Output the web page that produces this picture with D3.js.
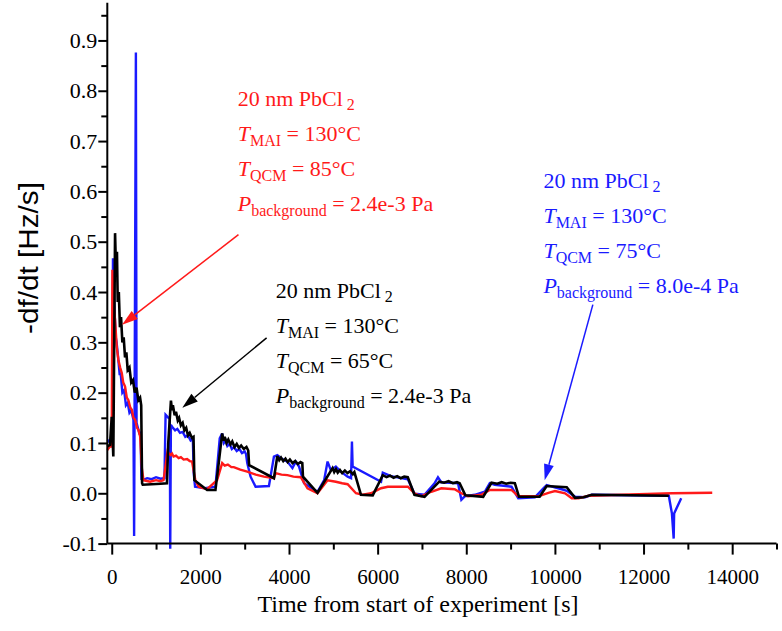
<!DOCTYPE html>
<html>
<head>
<meta charset="utf-8">
<script src="https://cdn.jsdelivr.net/npm/d3@7"></script>
<style>
  html, body { margin: 0; padding: 0; background: #fff; }
  svg { display: block; }
</style>
</head>
<body>
<svg id="chart" width="782" height="631"></svg>
<script>
// ---------------- data (time [s], -df/dt [Hz/s]) ----------------
const seriesBlack65 = [[-100,0.093],[-40,0.096],[0,0.152],[36,0.073],[75,0.517],[100,0.43],[118,0.48],[135,0.38],[160,0.40],[185,0.33],[210,0.35],[240,0.30],[270,0.31],[300,0.27],[330,0.28],[360,0.245],[400,0.25],[440,0.22],[480,0.225],[520,0.20],[560,0.21],[600,0.185],[640,0.19],[665,0.175],[685,0.02],[700,0.017],[900,0.018],[1100,0.019],[1246,0.02],[1275,0.1],[1336,0.184],[1360,0.165],[1380,0.175],[1420,0.155],[1450,0.162],[1490,0.145],[1520,0.15],[1560,0.135],[1600,0.14],[1640,0.125],[1680,0.13],[1720,0.115],[1760,0.12],[1810,0.11],[1845,0.112],[1865,0.026],[2152,0.0066],[2340,0.0066],[2414,0.06],[2492,0.119],[2520,0.105],[2550,0.112],[2590,0.1],[2630,0.107],[2680,0.097],[2720,0.103],[2770,0.092],[2820,0.098],[2870,0.09],[2920,0.095],[2980,0.088],[3040,0.092],[3080,0.085],[3100,0.056],[3660,0.03],[3737,0.074],[3780,0.066],[3820,0.071],[3870,0.064],[3920,0.069],[3970,0.062],[4020,0.067],[4080,0.06],[4140,0.064],[4200,0.058],[4260,0.062],[4300,0.06],[4315,0.033],[4643,0.001],[4983,0.05],[5020,0.042],[5060,0.048],[5100,0.041],[5150,0.046],[5200,0.04],[5260,0.045],[5320,0.04],[5380,0.044],[5440,0.038],[5475,0.042],[5624,-0.003],[5889,-0.004],[6116,0.036],[6200,0.032],[6280,0.035],[6360,0.031],[6440,0.034],[6520,0.03],[6600,0.033],[6680,0.032],[6831,-0.003],[7058,-0.007],[7390,0.023],[7500,0.021],[7600,0.024],[7700,0.02],[7790,0.022],[7851,0.02],[7980,-0.004],[8381,-0.007],[8569,0.021],[8700,0.019],[8800,0.022],[8900,0.019],[9000,0.021],[9096,0.02],[9190,-0.007],[9655,-0.007],[9814,0.0145],[10267,0.012],[10455,-0.009],[10645,-0.008],[10833,-0.003],[12570,-0.005]];

const seriesBlue75 = [[-100,0.106],[-30,0.1],[10,0.105],[28,0.467],[45,0.41],[70,0.35],[90,0.31],[110,0.3],[150,0.265],[180,0.235],[200,0.24],[240,0.2],[280,0.205],[320,0.175],[360,0.18],[400,0.16],[440,0.165],[490,0.146],[505,-0.085],[545,0.876],[560,0.14],[590,0.13],[625,0.119],[650,0.12],[670,0.028],[700,0.026],[800,0.03],[900,0.028],[1000,0.032],[1100,0.029],[1190,0.03],[1215,0.156],[1280,0.15],[1310,0.148],[1320,-0.11],[1335,0.136],[1380,0.13],[1430,0.125],[1480,0.128],[1540,0.12],[1600,0.122],[1660,0.112],[1720,0.115],[1780,0.105],[1830,0.108],[1850,0.04],[1880,0.013],[2100,0.01],[2340,0.013],[2437,0.109],[2492,0.119],[2530,0.1],[2570,0.105],[2610,0.094],[2660,0.098],[2710,0.088],[2760,0.092],[2820,0.084],[2880,0.088],[2940,0.08],[3000,0.083],[3030,0.078],[3058,0.06],[3133,0.033],[3246,0.013],[3547,0.0145],[3660,0.073],[3737,0.076],[3850,0.068],[3964,0.063],[4077,0.05],[4152,0.063],[4226,0.053],[4340,0.02],[4643,0.003],[4793,0.026],[4870,0.063],[4944,0.046],[5057,0.053],[5171,0.043],[5323,0.033],[5400,0.03],[5420,0.103],[5436,0.053],[6077,0.023],[6116,0.041],[6300,0.034],[6530,0.03],[6682,0.028],[6831,-0.001],[7058,-0.003],[7284,0.02],[7361,0.032],[7436,0.022],[7814,0.02],[7889,-0.013],[7964,-0.006],[8190,-0.003],[8417,0.003],[8530,0.02],[8643,0.017],[9021,0.013],[9173,-0.01],[9549,-0.008],[9740,0.01],[9814,0.0165],[10154,0.008],[10267,0.005],[10455,-0.007],[10682,-0.008],[10833,-0.003],[12570,-0.005],[12640,-0.04],[12680,-0.09],[12690,-0.04],[12850,-0.01]];

const seriesRed85 = [[-100,0.086],[-40,0.093],[0,0.093],[15,0.444],[40,0.38],[75,0.344],[113,0.291],[150,0.265],[190,0.25],[227,0.239],[260,0.22],[301,0.212],[340,0.19],[376,0.185],[420,0.17],[453,0.166],[490,0.15],[528,0.146],[570,0.13],[602,0.126],[641,0.113],[680,0.05],[716,0.026],[867,0.023],[1000,0.026],[1100,0.024],[1169,0.026],[1259,0.083],[1282,0.08],[1330,0.076],[1360,0.079],[1395,0.073],[1450,0.075],[1510,0.07],[1560,0.072],[1622,0.067],[1700,0.068],[1760,0.064],[1812,0.063],[1887,0.026],[1961,0.013],[2152,0.008],[2378,0.026],[2492,0.06],[2550,0.055],[2620,0.057],[2700,0.052],[2754,0.052],[2900,0.047],[3058,0.043],[3250,0.037],[3434,0.033],[3660,0.03],[3699,0.04],[3830,0.037],[3964,0.036],[4100,0.033],[4265,0.032],[4417,0.01],[4643,0.0],[4870,0.026],[5057,0.023],[5200,0.02],[5323,0.018],[5511,0.0],[5663,-0.003],[5850,0.0],[6077,0.01],[6229,0.013],[6682,0.013],[6831,0.0],[6983,-0.006],[7210,0.003],[7436,0.01],[7737,0.008],[7889,0.0],[8041,-0.006],[8340,-0.003],[8530,0.0066],[9021,0.0066],[9173,-0.006],[9627,-0.006],[9853,0.001],[10002,0.0045],[10229,0.0],[10380,-0.01],[10532,-0.01],[10759,-0.005],[11514,-0.003],[12645,0.0],[13550,0.001]];

const xTickValues = [0, 2000, 4000, 6000, 8000, 10000, 12000, 14000];
const xMinorValues = [1000, 3000, 5000, 7000, 9000, 11000, 13000, 15000];
const yTickValues = [-0.1, 0.0, 0.1, 0.2, 0.3, 0.4, 0.5, 0.6, 0.7, 0.8, 0.9];
const yMinorValues = [-0.05, 0.05, 0.15, 0.25, 0.35, 0.45, 0.55, 0.65, 0.75, 0.85, 0.95];

const xTitle = "Time from start of experiment [s]";
const yTitle = "-df/dt [Hz/s]";

// annotation text blocks: [label, subscript, rest]
const annRed = {color: "#ff1a1a", at: [2842, 0.770], lines: [
  ["20 nm PbCl", "2", ""], ["T", "MAI", " = 130°C"], ["T", "QCM", " = 85°C"], ["P", "background", " = 2.4e-3 Pa"]]};
const annBlack = {color: "#000000", at: [3700, 0.388], lines: [
  ["20 nm PbCl", "2", ""], ["T", "MAI", " = 130°C"], ["T", "QCM", " = 65°C"], ["P", "background", " = 2.4e-3 Pa"]]};
const annBlue = {color: "#1a1aff", at: [9740, 0.606], lines: [
  ["20 nm PbCl", "2", ""], ["T", "MAI", " = 130°C"], ["T", "QCM", " = 75°C"], ["P", "background", " = 8.0e-4 Pa"]]};

// arrows: [from, to] in data units
const arrowRed = [[2860, 0.514], [233, 0.335]];
const arrowBlack = [[3495, 0.309], [1592, 0.170]];
const arrowBlue = [[10856, 0.375], [9769, 0.026]];

// ---------------- drawing ----------------
const svg = d3.select("#chart");
svg.append("rect").attr("width", 782).attr("height", 631).attr("fill", "#fff");

const x = d3.scaleLinear().domain([-100, 15000]).range([107.3, 776.5]);
const y = d3.scaleLinear().domain([-0.1, 0.975]).range([543.6, 2.7]);

const serif = "'Liberation Serif', 'Times New Roman', serif";
const sans = "'Liberation Sans', Arial, sans-serif";

const line = d3.line().x(d => x(d[0])).y(d => y(d[1]));
const plot = svg.append("g");
[[seriesBlue75, "#1a1aff", 2.4], [seriesRed85, "#ff1a1a", 2.4], [seriesBlack65, "#000", 2.6]].forEach(([data, col, w]) => {
  plot.append("path").datum(data).attr("d", line)
    .attr("fill", "none").attr("stroke", col).attr("stroke-width", w)
    .attr("stroke-linejoin", "miter").attr("stroke-miterlimit", 3);
});

// axes
const xAxisY = y(-0.1);
const gx = svg.append("g").attr("transform", `translate(0,${xAxisY})`)
  .call(d3.axisBottom(x).tickValues(xTickValues).tickSize(11).tickPadding(14).tickFormat(d => String(d)));
svg.append("g").attr("transform", `translate(0,${xAxisY})`)
  .call(d3.axisBottom(x).tickValues(xMinorValues).tickSize(6).tickFormat(""))
  .select(".domain").remove();
const gy = svg.append("g").attr("transform", `translate(${x(-100)},0)`)
  .call(d3.axisLeft(y).tickValues(yTickValues).tickSize(9).tickPadding(1).tickFormat(d => d.toFixed(1).replace("\u2212", "-")));
svg.append("g").attr("transform", `translate(${x(-100)},0)`)
  .call(d3.axisLeft(y).tickValues(yMinorValues).tickSize(6).tickFormat(""))
  .select(".domain").remove();

svg.selectAll(".domain").attr("stroke", "#000").attr("stroke-width", 2);
svg.selectAll(".tick line").attr("stroke", "#000").attr("stroke-width", 2);
svg.selectAll(".tick text").attr("font-family", serif).attr("font-size", 21).attr("fill", "#000");
gy.selectAll(".tick text").attr("font-size", 22);
gx.select(".domain").attr("d", `M${x(-100)},0H${x(15000)}`);
gy.select(".domain").attr("d", `M0,${y(0.975)}V${y(-0.1)}`);

// titles
svg.append("text").attr("x", 418).attr("y", 612).attr("text-anchor", "middle")
  .attr("font-family", serif).attr("font-size", 24).text(xTitle);
svg.append("text").attr("transform", "translate(38,258) rotate(-90)").attr("text-anchor", "middle")
  .attr("font-family", sans).attr("font-size", 27).attr("textLength", 152).attr("lengthAdjust", "spacingAndGlyphs").text(yTitle);

// annotations
function annotate(a) {
  const x0 = x(a.at[0]), y0 = y(a.at[1]);
  a.lines.forEach((ln, i) => {
    const txt = svg.append("text").attr("x", x0).attr("y", y0 + i * 35)
      .attr("font-family", serif).attr("font-size", 22).attr("fill", a.color);
    if (i === 0) {
      txt.append("tspan").text(ln[0]);
      txt.append("tspan").attr("dx", 4).attr("dy", 4).attr("font-size", 16).text(ln[1]);
    } else {
      txt.append("tspan").attr("font-style", "italic").text(ln[0]);
      txt.append("tspan").attr("dy", 5).attr("font-size", 16).text(ln[1]);
      txt.append("tspan").attr("dy", -5).text(ln[2]);
    }
  });
}
[annRed, annBlack, annBlue].forEach(annotate);

function arrow(a, col) {
  const x1 = x(a[0][0]), y1 = y(a[0][1]), x2 = x(a[1][0]), y2 = y(a[1][1]);
  const ang = Math.atan2(y2 - y1, x2 - x1), L = 16, W = 5;
  const bx = x2 - L * Math.cos(ang), by = y2 - L * Math.sin(ang);
  svg.append("line").attr("x1", x1).attr("y1", y1).attr("x2", bx).attr("y2", by)
    .attr("stroke", col).attr("stroke-width", 1.5);
  const px = -Math.sin(ang) * W, py = Math.cos(ang) * W;
  svg.append("path").attr("d", `M${x2},${y2}L${bx + px},${by + py}L${bx - px},${by - py}Z`).attr("fill", col);
}
arrow(arrowRed, "#ff1a1a");
arrow(arrowBlack, "#000");
arrow(arrowBlue, "#1a1aff");
</script>
</body>
</html>
